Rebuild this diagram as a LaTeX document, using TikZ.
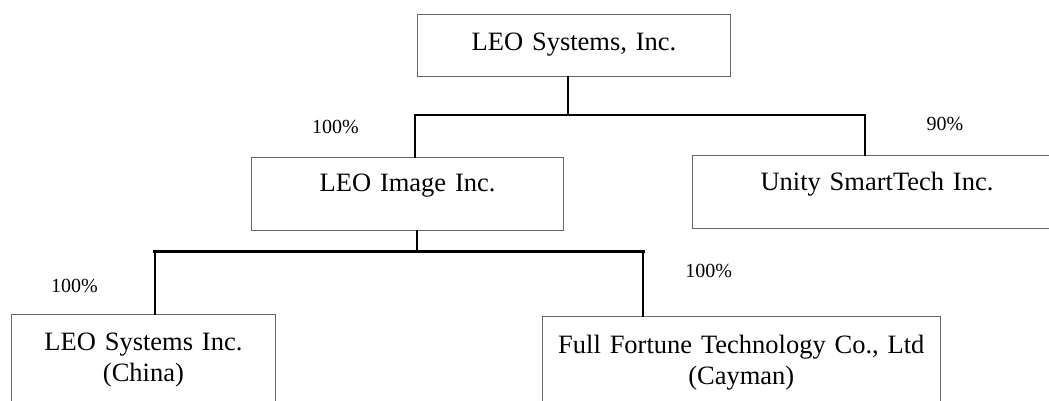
\documentclass[tikz,border=0pt]{standalone}
\usepackage{fontspec}
\setmainfont{Liberation Serif}
\begin{document}
\begin{tikzpicture}[x=1pt,y=-1pt, line join=miter, line cap=rect]
			\tikzset{
				orgbox/.style={draw=black!60, line width=0.9pt, anchor=north west, inner sep=0pt, align=center, font=\fontsize{26.5}{31}\selectfont},
				pct/.style={anchor=base, inner sep=0pt, font=\fontsize{20}{24}\selectfont},
				link/.style={line width=2pt},
				buslink/.style={line width=3.5pt}
			}
			\clip (0,0) rectangle (1049,401);
			% companies
			\node[orgbox, text width=312.5pt, text height=36pt, text depth=26pt] (leo) at (417.3,14) {LEO Systems, Inc.};
			\node[orgbox, text width=312.3pt, text height=34.3pt, text depth=39pt] (image) at (251,156.7) {LEO Image Inc.};
			\node[orgbox, text width=370pt, text height=35pt, text depth=38.3pt] (unity) at (691.5,155) {Unity SmartTech Inc.};
			\node[orgbox, text width=264pt, text height=35.7pt, text depth=110pt] (china) at (11,314.3) {LEO Systems Inc.\\(China)};
			\node[orgbox, text width=398.3pt, text height=37.6pt, text depth=110pt] (cayman) at (541.7,315.7) {Full Fortune Technology Co., Ltd\\(Cayman)};
			% junctions
			\coordinate (j1) at (567.7,115.5);
			\coordinate (jl) at (415.3,115.5);
			\coordinate (jr) at (865,115.5);
			\coordinate (j2) at (416.5,251.5);
			\coordinate (kl) at (155,251.5);
			\coordinate (kr) at (643,251.5);
			\draw[link] (j1 |- leo.south) -- (j1);
			\draw[link] (jl |- image.north) -- (jl) -- (jr) -- (jr |- unity.north);
			\draw[link] (j2 |- image.south) -- (j2);
			\draw[buslink] (kl) -- (kr);
			\draw[link] (kl) -- (kl |- china.north);
			\draw[link] (kr) -- (kr |- cayman.north);
			% shares
			\path
			(335.5,134)node[pct](s1){100\%}
			(945,130.7)node[pct](s2){90\%}
			(74.5,292.7)node[pct](s3){100\%}
			(708.8,277.3)node[pct](s4){100\%}
			;
		\end{tikzpicture}
\end{document}
